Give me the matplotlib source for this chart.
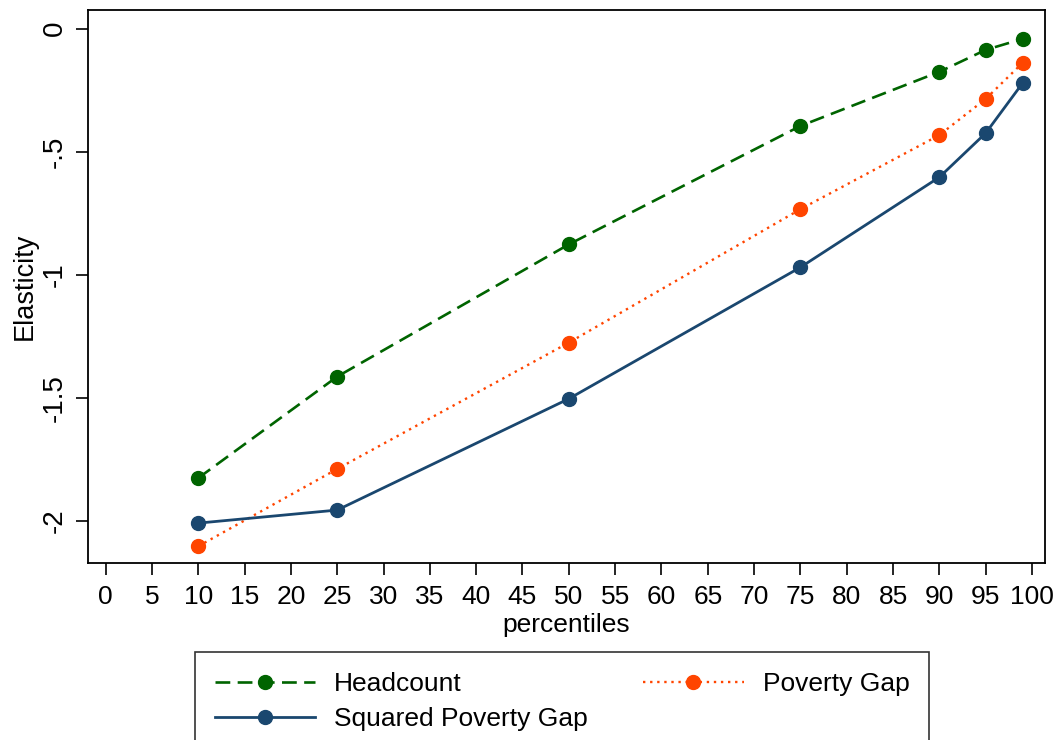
import matplotlib
matplotlib.use("Agg")
import matplotlib.pyplot as plt
from matplotlib.ticker import FuncFormatter

percentiles = [10, 25, 50, 75, 90, 95, 99]
headcount = [-1.825, -1.413, -0.876, -0.395, -0.175, -0.086, -0.041]
poverty_gap = [-2.102, -1.788, -1.275, -0.733, -0.432, -0.285, -0.138]
squared_gap = [-2.008, -1.955, -1.503, -0.969, -0.603, -0.424, -0.220]
xticks = list(range(0, 101, 5))
yticks = [0, -0.5, -1, -1.5, -2]

plt.rcParams['font.family'] = ['Liberation Sans', 'DejaVu Sans']

fig = plt.figure(figsize=(10.54, 7.4), dpi=100)
ax = fig.add_axes([88/1054, 1-563/740, (1045-88)/1054, (563-10)/740])

green = '#006400'
orange = '#ff4500'
navy = '#1a476f'

l1, = ax.plot(percentiles, headcount, color=green, linestyle=(0, (5.6, 2.8)), lw=1.9,
              marker='o', markersize=10, label='Headcount')
l2, = ax.plot(percentiles, poverty_gap, color=orange, linestyle=(0, (1, 2.0)), lw=1.7,
              marker='o', markersize=10, label='Poverty Gap')
l3, = ax.plot(percentiles, squared_gap, color=navy, linestyle='-', lw=2.0,
              marker='o', markersize=10, label='Squared Poverty Gap')

ax.set_xlim(-1.9, 101.4)
ax.set_ylim(-2.17, 0.076)
ax.set_xticks(xticks)
ax.set_yticks(yticks)

def yfmt(v, pos):
    if v == 0:
        return '0'
    s = ('%g' % v)
    return s.replace('-0.', '-.')

ax.yaxis.set_major_formatter(FuncFormatter(yfmt))
ax.tick_params(axis='both', direction='out', length=8.6, width=1.2, color='black')
ax.tick_params(axis='x', pad=7, labelsize=19)
ax.tick_params(axis='y', pad=6, labelsize=20)
for lab in ax.get_yticklabels():
    lab.set_rotation(90)
    lab.set_va('center')
for sp in ax.spines.values():
    sp.set_linewidth(1.3)

ax.set_xlabel('percentiles', fontsize=19, labelpad=3)
ax.set_ylabel('Elasticity', fontsize=19.5, labelpad=3)

leg = fig.legend(handles=[l1, l3, l2], labels=['Headcount', 'Squared Poverty Gap', 'Poverty Gap'],
                 ncol=2, loc='upper left', bbox_to_anchor=(195/1054, 1-652/740),
                 fontsize=19, handlelength=3.8, handletextpad=0.72, columnspacing=2.1,
                 frameon=True, fancybox=False, edgecolor='black', borderpad=0.75,
                 labelspacing=0.42, borderaxespad=0)
leg.get_frame().set_linewidth(1.2)
for h in leg.legend_handles:
    h.set_markersize(10)

fig.savefig('out.png', dpi=100, facecolor='white')
